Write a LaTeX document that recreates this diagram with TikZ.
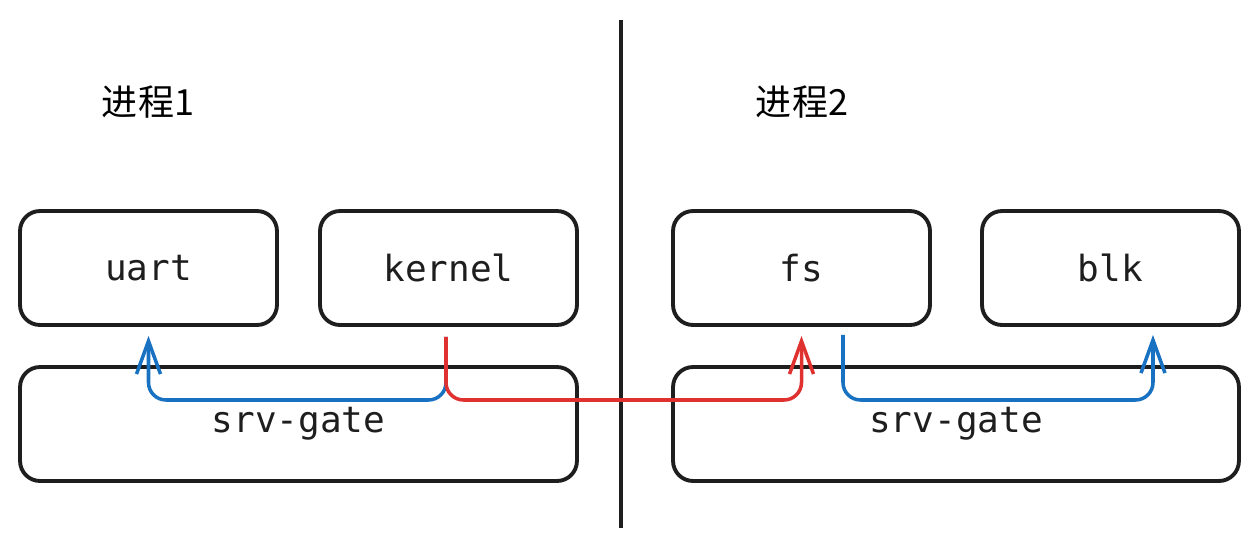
\documentclass[tikz,border=0pt]{standalone}
\usepackage{fontspec}
\setmonofont{DejaVu Sans Mono}
\newfontfamily\cjk{Noto Sans CJK SC}
\usetikzlibrary{arrows.meta}
\definecolor{ink}{HTML}{1E1E1E}
\definecolor{linkblue}{HTML}{1971C2}
\definecolor{linkred}{HTML}{E03131}

\begin{document}
\begin{tikzpicture}[x=0.02cm,y=-0.02cm,font=\ttfamily\fontsize{20.5}{24}\selectfont,
    box/.style={rectangle,draw=ink,line width=2.2pt,rounded corners=0.4cm,
      minimum width=5.14cm,minimum height=2.28cm,text=ink},
    link/.style={line width=2pt,rounded corners=0.35cm,
      -{Straight Barb[length=0.66cm,width=0.48cm,line width=2pt]}}]
        \useasboundingbox (0,0) rectangle (1258,548);
        \node (P1) at (148,102) {\cjk 进程1};
        \node (P2) at (802,102) {\cjk 进程2};
        \node (uart) at (148.5,268) [box] {uart};
        \node (kernel) at (448.5,268) [box] {kernel};
        \node (fs) at (801.5,268) [box] {fs};
        \node (blk) at (1110.5,268) [box] {blk};
        \node (G1) at (298.5,424) [box,minimum width=11.14cm] {srv-gate};
        \node (G2) at (956,424) [box,minimum width=11.32cm] {srv-gate};
        \coordinate (top) at (621,20);
        \coordinate (bottom) at (621,528);
        \draw [ink,line width=2pt] (top) -- (bottom);
        \coordinate (bus) at (0,400);
        \coordinate (K) at ([xshift=-0.05cm,yshift=-0.2cm]kernel.south);
        \coordinate (U) at ([yshift=-0.18cm]uart.south);
        \coordinate (F) at ([yshift=-0.18cm]fs.south);
        \coordinate (F2) at ([xshift=0.83cm,yshift=-0.16cm]fs.south);
        \coordinate (B) at ([xshift=0.85cm,yshift=-0.16cm]blk.south);
        \draw [link,linkblue] (K) -- (K |- bus) -| (U);
        \draw [link,linkred] (K) -- (K |- bus) -| (F);
        \draw [link,linkblue] (F2) -- (F2 |- bus) -| (B);
      \end{tikzpicture}
\end{document}
